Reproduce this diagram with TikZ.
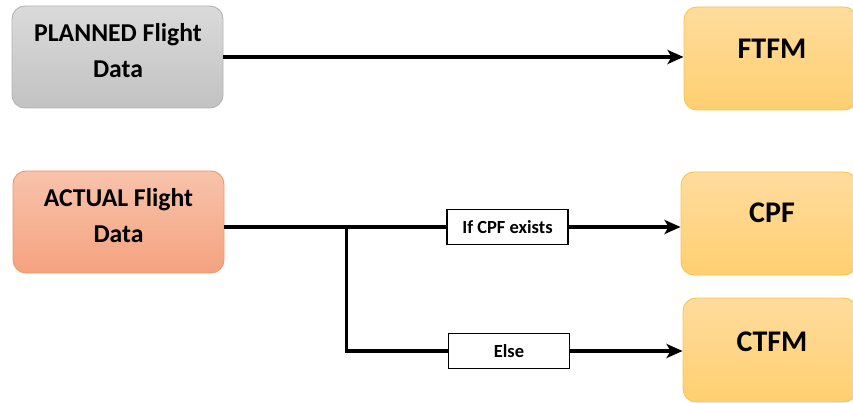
\documentclass[tikz,border=0pt]{standalone}
\usepackage{fontspec}
\setmainfont{Carlito}
\usetikzlibrary{arrows.meta}
\definecolor{gtop}{HTML}{DADADA}
\definecolor{gbot}{HTML}{C2C2C2}
\definecolor{gline}{HTML}{B3B3B3}
\definecolor{otop}{HTML}{F8C3AB}
\definecolor{obot}{HTML}{F4A27F}
\definecolor{oline}{HTML}{EE9A6C}
\definecolor{ytop}{HTML}{FFDC9E}
\definecolor{ybot}{HTML}{FFCF70}
\definecolor{yline}{HTML}{F7C64A}
\tikzset{
  box/.style={rectangle, rounded corners=13pt, line width=0.9pt, inner sep=0pt},
  graybox/.style={box, draw=gline, top color=gtop, bottom color=gbot},
  orangebox/.style={box, draw=oline, top color=otop, bottom color=obot},
  yellowbox/.style={box, draw=yline, top color=ytop, bottom color=ybot},
  bigtext/.style={font=\fontsize{25.7}{30}\selectfont\bfseries, inner sep=0pt, anchor=base},
  hugetext/.style={font=\fontsize{30}{34}\selectfont\bfseries, inner sep=0pt, anchor=base},
  cond/.style={draw=black, fill=white, line width=1.6pt, minimum width=121pt, minimum height=35pt, inner sep=0pt, font=\fontsize{18.5}{22}\selectfont\bfseries},
  flow/.style={line width=3.3pt, -{Stealth[length=16pt,width=14pt,inset=4pt]}},
  wire/.style={line width=3.3pt}
}
\begin{document}
\begin{tikzpicture}[x=1pt,y=1pt]
\useasboundingbox (0,0) rectangle (853,-403);
% source boxes
\node[graybox, minimum width=211pt, minimum height=102pt] (planned) at (117.5,-57) {};
\node[bigtext] (plannedA) at (118,-42) {PLANNED Flight};
\node[bigtext] (plannedB) at (118,-78) {Data};
\node[orangebox, minimum width=211pt, minimum height=102pt] (actual) at (118.5,-222) {};
\node[bigtext] (actualA) at (118.5,-207) {ACTUAL Flight};
\node[bigtext] (actualB) at (118.5,-242) {Data};
% target boxes
\node[yellowbox, minimum width=173pt, minimum height=103pt] (ftfm) at (770.5,-58.5) {};
\node[hugetext] (ftfmT) at (772,-59) {FTFM};
\node[yellowbox, minimum width=176pt, minimum height=103pt] (cpf) at (769,-223.5) {};
\node[hugetext] (cpfT) at (772,-223) {CPF};
\node[yellowbox, minimum width=174pt, minimum height=104pt] (ctfm) at (770,-350) {};
\node[hugetext] (ctfmT) at (772,-351) {CTFM};
% condition labels
\node[cond] (ifc) at (507.5,-227) {If CPF exists};
\node[cond] (els) at (509,-351) {Else};
% connectors
\draw[flow] (planned.east) -- (planned.east -| ftfm.west);
\coordinate (j) at (346.5,-227);
\draw[wire] (actual.east |- j) -- (j) -- (ifc.west);
\draw[flow] (ifc.east) -- (ifc.east -| cpf.west);
\draw[wire] (j) |- (els.west);
\draw[flow] (els.east) -- (els.east -| ctfm.west);
\end{tikzpicture}
\end{document}
